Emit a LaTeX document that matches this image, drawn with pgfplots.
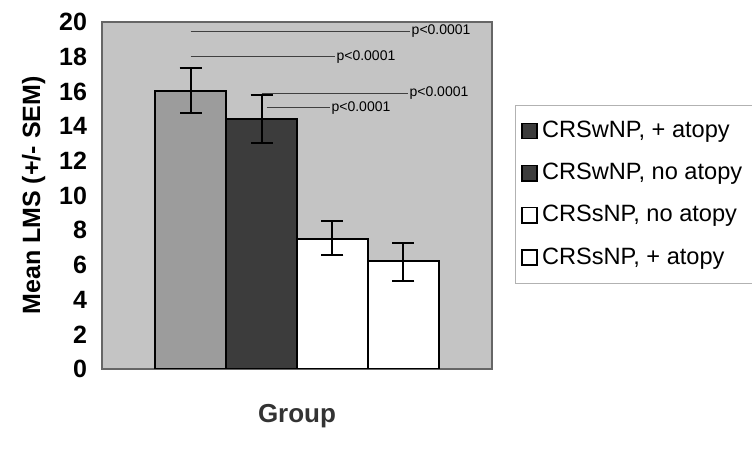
\documentclass[border=0pt]{standalone}
\usepackage{fontspec}
\setmainfont{Liberation Sans}
\usepackage{pgfplots}
\pgfplotsset{compat=1.18}
\definecolor{bg}{HTML}{C4C4C4}
\definecolor{barA}{HTML}{9C9C9C}
\definecolor{barB}{HTML}{3C3C3C}
\begin{document}
\begin{tikzpicture}
\useasboundingbox (-51pt,-40pt) rectangle (325pt,184.5pt);
\begin{axis}[
  at={(0pt,0pt)}, anchor=south west,
  width=195pt, height=173.5pt, scale only axis,
  xmin=-1.25, xmax=4.25, ymin=0, ymax=20,
  ytick={0,2,...,20},
  xtick=\empty,
  /pgf/number format/assume math mode=true,
  yticklabel style={font=\fontsize{12.5}{14}\selectfont\bfseries, xshift=-4pt},
  ytick style={draw=none},
  axis background/.style={fill=bg},
  axis line style={gray!80!black, line width=0.6pt},
  ylabel={\fontsize{12.5}{14}\selectfont\bfseries Mean LMS (+/- SEM)},
  ylabel style={yshift=0pt},
  xlabel={\fontsize{13}{15}\selectfont\bfseries Group},
  xlabel style={yshift=-14pt, text=black!80},
  legend style={at={(1.059,0.761)}, anchor=north west, draw=gray!60, line width=0.4pt,
    font=\fontsize{11.8}{13}\selectfont, row sep=7.3pt, inner xsep=3pt, inner ysep=6pt, fill=white},
  legend cell align=left,
  error bars/y dir=both, error bars/y explicit,
  error bars/error bar style={black, line width=1pt},
  error bars/error mark options={rotate=90, mark size=5.5pt, line width=1pt, black},
]
\addplot[ybar, bar width=1, bar shift=0pt, fill=barA, draw=black, line width=1pt,
  legend image code/.code={\draw[fill=barB, draw=black, line width=0.8pt] (0pt,-3.8pt) rectangle (7.5pt,3.8pt);}]
  coordinates {(0,16.0) += (0,1.35) -= (0,1.25)};
\addlegendentry{CRSwNP, + atopy}
\addplot[ybar, bar width=1, bar shift=0pt, fill=barB, draw=black, line width=1pt,
  legend image code/.code={\draw[fill=barB, draw=black, line width=0.8pt] (0pt,-3.8pt) rectangle (7.5pt,3.8pt);}]
  coordinates {(1,14.4) += (0,1.4) -= (0,1.4)};
\addlegendentry{CRSwNP, no atopy}
\addplot[ybar, bar width=1, bar shift=0pt, fill=white, draw=black, line width=1pt,
  legend image code/.code={\draw[fill=white, draw=black, line width=0.8pt] (0pt,-3.8pt) rectangle (7.5pt,3.8pt);}]
  coordinates {(2,7.5) += (0,1.05) -= (0,0.95)};
\addlegendentry{CRSsNP, no atopy}
\addplot[ybar, bar width=1, bar shift=0pt, fill=white, draw=black, line width=1pt,
  legend image code/.code={\draw[fill=white, draw=black, line width=0.8pt] (0pt,-3.8pt) rectangle (7.5pt,3.8pt);}]
  coordinates {(3,6.2) += (0,1.05) -= (0,1.1)};
\addlegendentry{CRSsNP, + atopy}
% significance lines
\addplot[forget plot, black!75, line width=0.5pt, no marks] coordinates {(0,19.45) (3.09,19.45)};
\addplot[forget plot, black!75, line width=0.5pt, no marks] coordinates {(0,18.0) (2.03,18.0)};
\addplot[forget plot, black!75, line width=0.5pt, no marks] coordinates {(1.0,15.9) (3.06,15.9)};
\addplot[forget plot, black!75, line width=0.5pt, no marks] coordinates {(1.07,15.05) (1.96,15.05)};
\node[anchor=west, inner sep=0.8pt, font=\fontsize{7}{8}\selectfont] at (axis cs:3.09,19.45) {p<0.0001};
\node[anchor=west, inner sep=0.8pt, font=\fontsize{7}{8}\selectfont] at (axis cs:2.03,18.0) {p<0.0001};
\node[anchor=west, inner sep=0.8pt, font=\fontsize{7}{8}\selectfont] at (axis cs:3.06,15.9) {p<0.0001};
\node[anchor=west, inner sep=0.8pt, font=\fontsize{7}{8}\selectfont] at (axis cs:1.96,15.05) {p<0.0001};
\end{axis}
\end{tikzpicture}
\end{document}
